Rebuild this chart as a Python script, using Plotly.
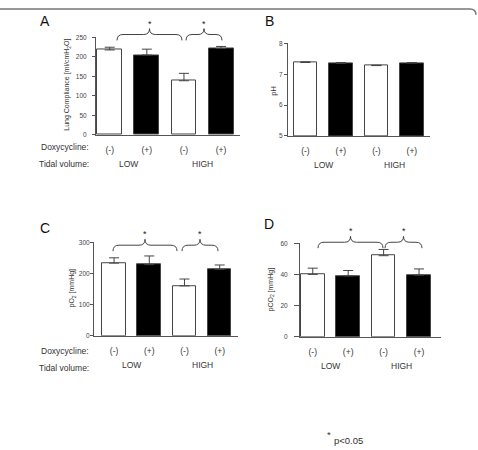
import plotly.graph_objects as go

W, H = 478, 450

groups = ["(-)", "(+)", "(-)", "(+)"]
tidal = ["LOW", "HIGH"]

compliance = [218, 205, 139, 222]
compliance_err = [7, 15, 19, 5]
ph = [7.38, 7.35, 7.28, 7.36]
ph_err = [0.02, 0.03, 0.01, 0.02]
po2 = [233, 228, 160, 213]
po2_err = [17, 28, 22, 14]
pco2 = [40, 39, 52, 39.5]
pco2_err = [4, 3.5, 4, 4]

fills = ["white", "black", "white", "black"]
FONT = "Liberation Sans, Arial, sans-serif"
AX = "#555555"


def px(x):
    return x / W


def py(y):
    return 1 - y / H


panels = [
    dict(x0=96, x1=240, yt=34, yb=133, xr=[-0.37, 3.51], yr=[0, 250],
         yt_vals=[0, 50, 100, 150, 200, 250], vals=compliance, err=compliance_err,
         lab=7, tick=3),
    dict(x0=288, x1=430, yt=40, yb=134, xr=[-0.49, 3.51], yr=[5, 8],
         yt_vals=[5, 6, 7, 8], vals=ph, err=ph_err, lab=3, tick=3),
    dict(x0=94, x1=238, yt=242, yb=337, xr=[-0.57, 3.52], yr=[0, 300],
         yt_vals=[0, 100, 200, 300], vals=po2, err=po2_err, lab=2, tick=3),
    dict(x0=300, x1=441, yt=243, yb=338, xr=[-0.36, 3.62], yr=[0, 60],
         yt_vals=[0, 20, 40, 60], vals=pco2, err=pco2_err, lab=10, tick=5),
]

fig = go.Figure()
layout = {}
for i, p in enumerate(panels):
    n = "" if i == 0 else str(i + 1)
    xa, ya = "x" + n, "y" + n
    ov = str(i + 5)
    fig.add_trace(go.Bar(
        x=list(range(4)), y=[v - p["yr"][0] for v in p["vals"]], base=p["yr"][0],
        width=0.67, marker=dict(color=fills, line=dict(color="#444444", width=1)),
        error_y=dict(type="data", array=p["err"], arrayminus=[0] * 4, symmetric=False,
                     color="#444444", thickness=1, width=5),
        xaxis=xa, yaxis=ya, showlegend=False, hoverinfo="skip"))
    # empty trace to carry the overlay axis that draws the visible tick marks
    fig.add_trace(go.Scatter(x=[], y=[], xaxis=xa, yaxis="y" + ov,
                             showlegend=False, hoverinfo="skip"))
    dom_y = [py(p["yb"]), py(p["yt"])]
    layout["xaxis" + n] = dict(
        domain=[px(p["x0"]), px(p["x1"])], anchor=ya, range=p["xr"],
        showline=True, linecolor=AX, linewidth=1, ticks="", showgrid=False,
        zeroline=False, tickvals=list(range(4)), ticktext=groups,
        tickfont=dict(size=8.5, color="#333333", family=FONT), ticklabelstandoff=7)
    layout["yaxis" + n] = dict(
        domain=dom_y, anchor=xa, range=p["yr"],
        showline=False, ticks="outside", ticklen=p["lab"], tickwidth=1,
        tickcolor="rgba(255,255,255,0)", showgrid=False, zeroline=False,
        tickvals=p["yt_vals"],
        tickfont=dict(size=6.5, color="#444444", family=FONT))
    layout["yaxis" + ov] = dict(
        domain=dom_y, anchor=xa, overlaying=ya, range=p["yr"],
        showline=True, linecolor=AX, linewidth=1, ticks="outside", ticklen=p["tick"],
        tickcolor=AX, showgrid=False, zeroline=False, tickvals=p["yt_vals"],
        showticklabels=False)

fig.update_layout(**layout)

ann = []


def text(x, y, s, size=8.5, color="#333333", xanchor="center", angle=0):
    ann.append(dict(x=px(x), y=py(y), xref="paper", yref="paper", text=s,
                    showarrow=False, xanchor=xanchor, yanchor="middle",
                    textangle=angle, font=dict(size=size, color=color, family=FONT)))


# panel letters
text(45, 17, "A", size=14, color="#111111")
text(269, 17, "B", size=14, color="#111111")
text(45, 228, "C", size=14, color="#111111")
text(269, 223, "D", size=14, color="#111111")

# y-axis titles
text(67, 82, "Lung Compliance [ml/cmH<sub>2</sub>O]", size=7, angle=-90)
text(274, 88, "pH", size=7.5, angle=-90)
text(72, 289, "pO<sub>2</sub> [mmHg]", size=7, angle=-90)
text(271, 290, "pCO<sub>2</sub> [mmHg]", size=7, angle=-90)

# row labels
text(91, 145, "Doxycycline:", xanchor="right")
text(91, 163, "Tidal volume:", xanchor="right")
text(91, 352, "Doxycycline:", xanchor="right")
text(91, 370, "Tidal volume:", xanchor="right")

# group labels (data x, pixel y)
for i, p in enumerate(panels):
    n = "" if i == 0 else str(i + 1)
    ylab = p["yb"] + 30
    for k, g in enumerate(tidal):
        ann.append(dict(x=0.5 + 2 * k, y=py(ylab), xref="x" + n, yref="paper",
                        text=g, showarrow=False, yanchor="middle",
                        font=dict(size=8.5, color="#333333", family=FONT)))

# footnote
text(329, 437, "*", size=9.5, xanchor="center")
text(332, 443, "p<0.05", size=9.5, xanchor="left")

shapes = []


def brace(x1, x2, yl, xm=None, d=6):
    if xm is None:
        xm = (x1 + x2) / 2
    pts = [
        f"M{px(x1)},{py(yl + d)}",
        f"Q{px(x1)},{py(yl)} {px(x1 + d)},{py(yl)}",
        f"L{px(xm - d)},{py(yl)}",
        f"Q{px(xm)},{py(yl)} {px(xm)},{py(yl - d)}",
        f"Q{px(xm)},{py(yl)} {px(xm + d)},{py(yl)}",
        f"L{px(x2 - d)},{py(yl)}",
        f"Q{px(x2)},{py(yl)} {px(x2)},{py(yl + d)}",
    ]
    shapes.append(dict(type="path", path=" ".join(pts), xref="paper", yref="paper",
                       line=dict(color="#444444", width=1)))
    text(xm, yl - d - 5, "*", size=9, color="#222222")


brace(117, 182, 31)
brace(186, 222, 31)
brace(113, 177, 245)
brace(182, 218, 245)
brace(318, 383, 242)
brace(385, 422, 242)

# outer frame top edge with rounded corner
shapes.append(dict(type="path", xref="paper", yref="paper",
                   path=f"M0,{py(5)} L{px(470)},{py(5)} Q{px(476)},{py(5)} {px(476)},{py(11)}",
                   line=dict(color="#777777", width=1.5)))

fig.update_layout(width=W, height=H, margin=dict(l=0, r=0, t=0, b=0),
                  paper_bgcolor="white", plot_bgcolor="white",
                  annotations=ann, shapes=shapes, bargap=0)
fig.write_html("out.html")
